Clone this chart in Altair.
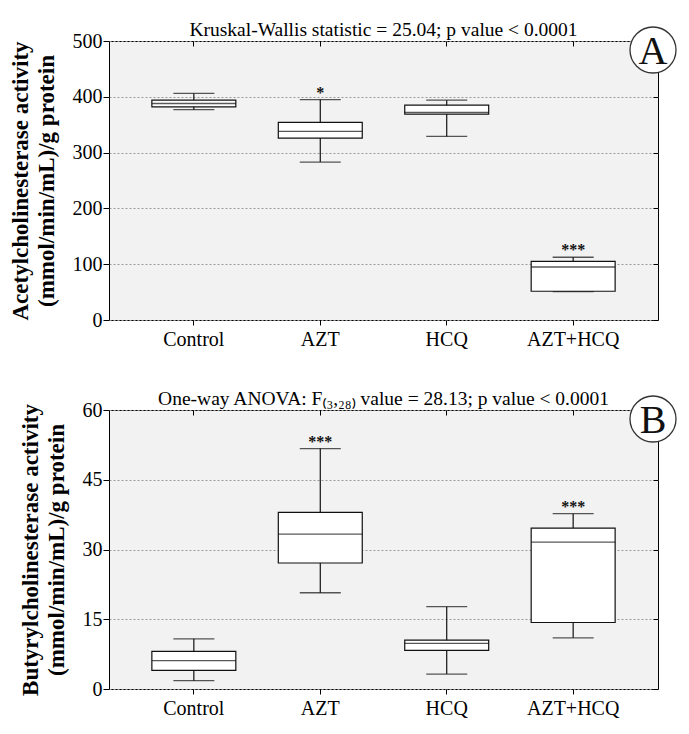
import altair as alt
import pandas as pd

groups = ["Control", "AZT", "HCQ", "AZT+HCQ"]

ache_low = [377, 283, 329, 51]
ache_q1 = [382, 326, 369, 51.5]
ache_median = [388, 338, 372, 95]
ache_q3 = [394, 354, 385, 105]
ache_high = [406, 395, 394, 112.5]
ache_stars = ["", "*", "", "***"]
ache_ticks = [0, 100, 200, 300, 400, 500]

bche_low = [1.8, 20.7, 3.2, 11.0]
bche_q1 = [4.0, 27.1, 8.3, 14.3]
bche_median = [6.1, 33.3, 9.8, 31.6]
bche_q3 = [8.1, 38.0, 10.5, 34.6]
bche_high = [10.8, 51.7, 17.7, 37.7]
bche_stars = ["", "***", "", "***"]
bche_ticks = [0, 15, 30, 45, 60]

W, H = 549, 279
FONT = "Liberation Serif"
INK = "#111111"


def panel(low, q1, med, q3, high, stars, ticks, ytitle, title, letter, title_x):
    df = pd.DataFrame({"group": groups, "low": low, "q1": q1, "median": med,
                       "q3": q3, "high": high, "stars": stars})
    base = alt.Chart(df)
    xscale = alt.Scale(domain=groups, paddingInner=0, paddingOuter=0.171)
    yscale = alt.Scale(domain=[ticks[0], ticks[-1]], nice=False)

    x_main = alt.X("group:N", scale=xscale, sort=groups,
                   axis=alt.Axis(title=None, labelAngle=0, labelFontSize=20,
                                 labelPadding=4, tickSize=5, grid=False))
    x_top = alt.X("group:N", scale=xscale, sort=groups,
                  axis=alt.Axis(orient="top", offset=-5, labels=False, tickSize=5,
                                title=None, grid=False))
    x_plain = alt.X("group:N", scale=xscale, sort=groups, axis=None)

    y_main = alt.Y("low:Q", scale=yscale,
                   axis=alt.Axis(values=ticks, title=ytitle, titleFontSize=23,
                                 titleFontWeight="bold", titleX=title_x, titleY=H / 2,
                                 titleLineHeight=26, labelFontSize=20, labelPadding=1,
                                 tickSize=6, grid=True, gridColor="#9a9a9a",
                                 gridDash=[2, 2], gridWidth=1))

    whisk = base.mark_rule(color=INK, strokeWidth=1.2).encode(
        x=x_main, y=y_main, y2="high:Q")
    cap_lo = base.mark_tick(color=INK, size=41, thickness=1.3).encode(
        x=x_top, y=alt.Y("low:Q", scale=yscale, axis=None))
    cap_hi = base.mark_tick(color=INK, size=41, thickness=1.3).encode(
        x=x_plain,
        y=alt.Y("high:Q", scale=yscale,
                axis=alt.Axis(orient="right", offset=-5, values=ticks, labels=False,
                              tickSize=5, title=None, grid=False)))
    box = base.mark_bar(width=alt.RelativeBandSize(0.664), fill="white", stroke=INK,
                        strokeWidth=1.2).encode(
        x=x_plain, y=alt.Y("q1:Q", scale=yscale, axis=None), y2="q3:Q")
    mid = base.mark_tick(color=INK, size=84, thickness=1.3).encode(
        x=x_plain, y=alt.Y("median:Q", scale=yscale, axis=None))
    star = base.mark_text(font=FONT, fontSize=16, fontWeight="bold", color=INK,
                          baseline="middle", dy=-7).encode(
        x=x_plain, y=alt.Y("high:Q", scale=yscale, axis=None), text="stars:N")

    ldf = pd.DataFrame({"letter": [letter]})
    circ = alt.Chart(ldf).mark_point(shape="circle", size=2116, filled=True,
                                     fill="white", stroke="#333333", strokeWidth=1.3,
                                     opacity=1).encode(
        x=alt.value(W - 5), y=alt.value(9))
    ltr = alt.Chart(ldf).mark_text(font=FONT, fontSize=40, color=INK,
                                   baseline="middle", dy=2).encode(
        x=alt.value(W - 5), y=alt.value(9), text="letter:N")

    return alt.layer(whisk, cap_lo, cap_hi, box, mid, star, circ, ltr).resolve_axis(
        x="independent", y="independent").properties(
        width=W, height=H, title=alt.TitleParams(title, offset=-12, dy=4))


top = panel(ache_low, ache_q1, ache_median, ache_q3, ache_high, ache_stars, ache_ticks,
            ["Acetylcholinesterase activity", "(mmol/min/mL)/g protein"],
            "Kruskal-Wallis statistic = 25.04; p value < 0.0001", "A", -77)
bottom = panel(bche_low, bche_q1, bche_median, bche_q3, bche_high, bche_stars, bche_ticks,
               ["Butyrylcholinesterase activity", "(mmol/min/mL)/g protein"],
               "One-way  ANOVA: F\u208d\u2083,\u2082\u2088\u208e value = 28.13; p value < 0.0001",
               "B", -67)

chart = alt.vconcat(top, bottom, spacing=38).properties(
    padding={"top": 11, "left": 0, "right": 0, "bottom": 5}
).configure_view(
    stroke="black", strokeWidth=1, fill="#f2f2f2"
).configure_axis(
    labelFont=FONT, titleFont=FONT, labelColor="black", titleColor="black",
    tickColor="black", domain=False
).configure_title(
    font=FONT, fontSize=19.5, fontWeight="normal", color="black"
)

chart.save("out.html", embed_options={"renderer": "svg", "actions": False})
